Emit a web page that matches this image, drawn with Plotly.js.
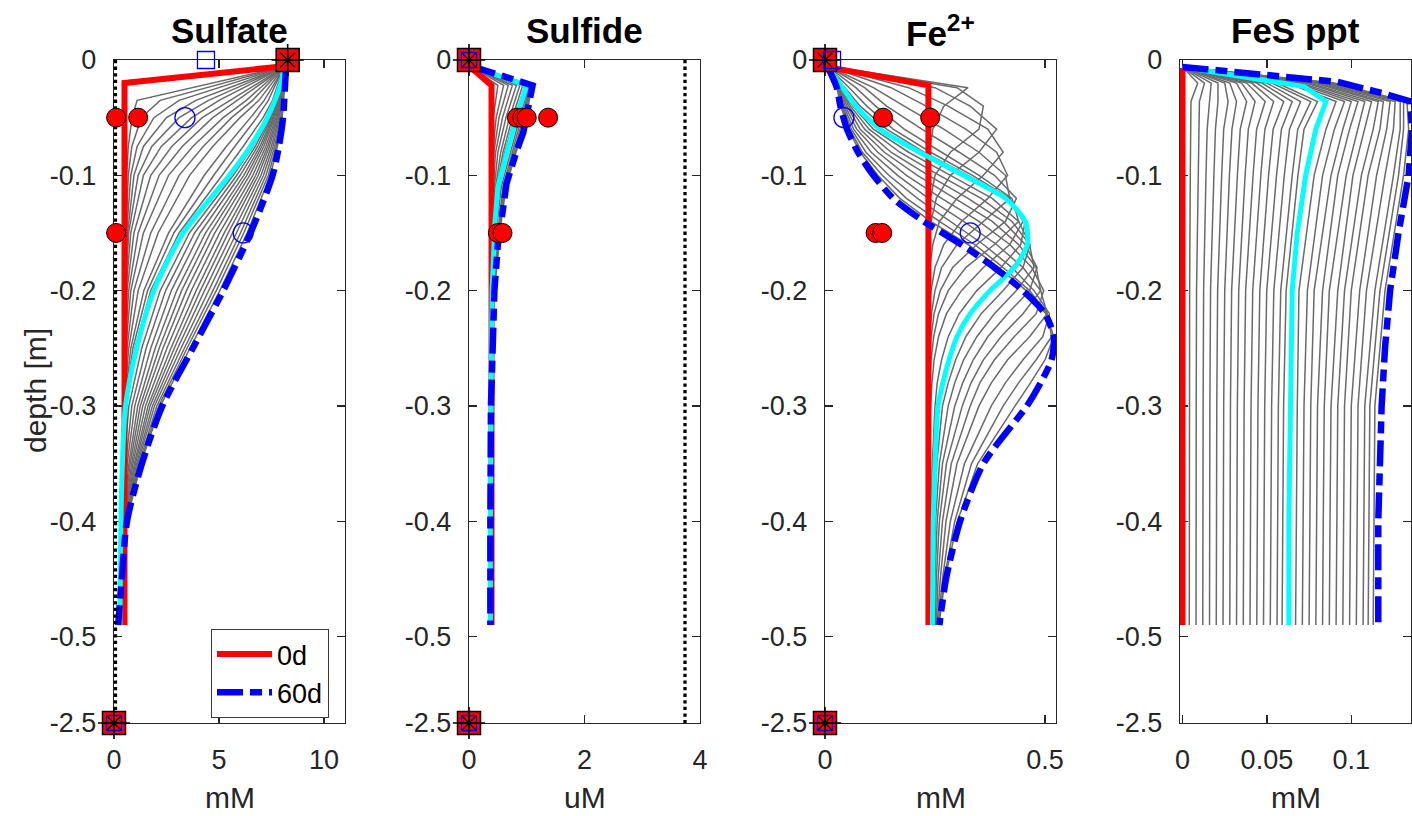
<!DOCTYPE html>
<html><head><meta charset="utf-8">
<script src="https://cdn.plot.ly/plotly-3.0.1.min.js"></script>
<style>html,body{margin:0;padding:0;background:#fff}#chart{width:1412px;height:816px}</style>
</head><body><div id="chart"></div>
<script>
// ---------------- DATA ----------------
const depthTicks = [0, -0.1, -0.2, -0.3, -0.4, -0.5, -2.5];
const depthTickText = ['0', '-0.1', '-0.2', '-0.3', '-0.4', '-0.5', '-2.5'];

// Panel 1: Sulfate (mM)
const sulfTickVals = [0, 5, 10];
const sulfRedDepth = [-0.005, -0.02, -0.49];
const sulfRedVal = [8.3, 0.5, 0.5];
const sulfLineDepth = [-0.005, -0.02, -0.05, -0.075, -0.1, -0.15, -0.2, -0.25, -0.3, -0.35, -0.4, -0.45, -0.49];
const sulfCyanVal = [8.1, 7.95, 7.3, 6.5, 5.5, 3.3, 1.9, 1.08, 0.55, 0.4, 0.33, 0.3, 0.28];
const sulfBlueVal = [8.2, 8.15, 8.05, 7.85, 7.55, 6.5, 5.2, 3.75, 2.3, 1.33, 0.62, 0.37, 0.2];
const sulfGrayDepth = [-0.005, -0.035, -0.05, -0.075, -0.1, -0.15, -0.2, -0.25, -0.3, -0.35, -0.4, -0.45, -0.49];
const sulfGray = [
  [8.25, 1.1, 0.86, 0.68, 0.6, 0.55, 0.52, 0.5, 0.5, 0.5, 0.49, 0.48, 0.47],
  [8.25, 2.2, 1.3, 0.85, 0.68, 0.57, 0.52, 0.5, 0.5, 0.49, 0.48, 0.47, 0.46],
  [8.25, 3.1, 1.9, 1.1, 0.8, 0.6, 0.53, 0.5, 0.49, 0.48, 0.47, 0.46, 0.45],
  [8.25, 3.9, 2.5, 1.4, 0.95, 0.65, 0.54, 0.5, 0.48, 0.47, 0.46, 0.45, 0.44],
  [8.2, 4.5, 3.1, 1.8, 1.15, 0.7, 0.55, 0.5, 0.47, 0.46, 0.45, 0.44, 0.43],
  [8.2, 5.0, 3.7, 2.25, 1.4, 0.8, 0.57, 0.5, 0.46, 0.45, 0.44, 0.43, 0.42],
  [8.2, 5.5, 4.2, 2.75, 1.75, 0.95, 0.62, 0.5, 0.46, 0.44, 0.43, 0.42, 0.4],
  [8.2, 5.9, 4.7, 3.25, 2.15, 1.15, 0.7, 0.52, 0.45, 0.43, 0.42, 0.4, 0.38],
  [8.15, 6.3, 5.2, 3.75, 2.6, 1.4, 0.8, 0.56, 0.45, 0.42, 0.4, 0.38, 0.36],
  [8.15, 6.6, 5.6, 4.25, 3.1, 1.75, 0.95, 0.62, 0.46, 0.42, 0.39, 0.36, 0.34],
  [8.15, 6.9, 6.0, 4.7, 3.6, 2.1, 1.15, 0.7, 0.48, 0.41, 0.37, 0.34, 0.32],
  [8.15, 7.15, 6.5, 5.35, 4.3, 2.6, 1.42, 0.8, 0.5, 0.41, 0.35, 0.32, 0.3],
  [8.1, 7.35, 6.8, 5.75, 4.75, 2.85, 1.6, 0.9, 0.52, 0.4, 0.34, 0.31, 0.29],
  [8.1, 7.55, 7.1, 6.15, 5.15, 3.1, 1.75, 1.0, 0.54, 0.4, 0.33, 0.3, 0.28],
  [8.11, 7.69, 7.37, 6.62, 5.68, 3.59, 2.2, 1.32, 0.71, 0.48, 0.36, 0.31, 0.27],
  [8.12, 7.73, 7.43, 6.73, 5.85, 3.84, 2.46, 1.53, 0.85, 0.56, 0.38, 0.31, 0.27],
  [8.13, 7.76, 7.49, 6.84, 6.01, 4.1, 2.73, 1.75, 0.99, 0.63, 0.4, 0.32, 0.26],
  [8.13, 7.8, 7.55, 6.95, 6.18, 4.36, 2.99, 1.96, 1.13, 0.71, 0.43, 0.32, 0.25],
  [8.14, 7.83, 7.6, 7.04, 6.32, 4.58, 3.22, 2.15, 1.25, 0.77, 0.45, 0.33, 0.25],
  [8.15, 7.86, 7.65, 7.13, 6.46, 4.8, 3.45, 2.33, 1.37, 0.84, 0.47, 0.33, 0.24],
  [8.15, 7.89, 7.71, 7.23, 6.61, 5.03, 3.68, 2.52, 1.5, 0.9, 0.49, 0.34, 0.24],
  [8.16, 7.92, 7.76, 7.32, 6.75, 5.25, 3.91, 2.71, 1.62, 0.97, 0.51, 0.34, 0.23],
  [8.17, 7.95, 7.8, 7.4, 6.87, 5.44, 4.11, 2.87, 1.72, 1.02, 0.52, 0.35, 0.23],
  [8.17, 7.98, 7.85, 7.49, 7.0, 5.64, 4.31, 3.03, 1.83, 1.08, 0.54, 0.35, 0.22],
  [8.18, 8.01, 7.89, 7.57, 7.12, 5.83, 4.51, 3.19, 1.93, 1.13, 0.56, 0.36, 0.22],
  [8.19, 8.03, 7.94, 7.65, 7.24, 6.02, 4.71, 3.35, 2.04, 1.19, 0.58, 0.36, 0.21],
  [8.19, 8.06, 7.98, 7.72, 7.35, 6.18, 4.87, 3.48, 2.13, 1.24, 0.59, 0.36, 0.21],
  [8.2, 8.08, 8.01, 7.78, 7.45, 6.34, 5.04, 3.62, 2.21, 1.28, 0.61, 0.37, 0.2]
];
const sulfDottedX = 0.07;
const sulfObsRedX = [0.1, 1.15, 0.1];
const sulfObsRedDepth = [-0.05, -0.05, -0.15];
const sulfObsBlueX = [3.38, 6.15];
const sulfObsBlueDepth = [-0.05, -0.15];
const sulfObsBlueSqX = [4.38];
const sulfObsBlueSqDepth = [0];
const sulfBoundX = [8.27, 0];
const sulfBoundDepth = [0, -2.5];
const sulfBoundBlueX = [0];
const sulfBoundBlueDepth = [-2.5];

// Panel 2: Sulfide (uM)
const sulfideTickVals = [0, 2, 4];
const sulfideRedDepth = [-0.005, -0.022, -0.49];
const sulfideRedVal = [0, 0.39, 0.39];
const sulfideGrayDepth = [-0.005, -0.022, -0.05, -0.08, -0.11, -0.14, -0.17, -0.2, -0.25, -0.3, -0.4, -0.49];
const sulfideCyanVal = [0.02, 1.0, 0.82, 0.65, 0.5, 0.45, 0.42, 0.4, 0.39, 0.38, 0.37, 0.37];
const sulfideBlueDepth = [-0.005, -0.022, -0.05, -0.063, -0.078, -0.107, -0.136, -0.16, -0.2, -0.25, -0.3, -0.4, -0.49];
const sulfideBlueVal = [0.02, 1.1, 0.99, 0.94, 0.83, 0.65, 0.57, 0.5, 0.44, 0.4, 0.38, 0.37, 0.37];
const sulfideGray = [
  [0.01, 0.5, 0.42, 0.4, 0.4, 0.4, 0.4, 0.4, 0.4, 0.4, 0.39, 0.39],
  [0.01, 0.6, 0.47, 0.41, 0.4, 0.4, 0.4, 0.4, 0.4, 0.39, 0.39, 0.38],
  [0.01, 0.68, 0.52, 0.43, 0.41, 0.4, 0.4, 0.4, 0.39, 0.39, 0.38, 0.38],
  [0.01, 0.75, 0.58, 0.46, 0.42, 0.41, 0.4, 0.4, 0.39, 0.39, 0.38, 0.38],
  [0.02, 0.82, 0.64, 0.5, 0.44, 0.42, 0.41, 0.4, 0.39, 0.38, 0.38, 0.37],
  [0.02, 0.88, 0.7, 0.55, 0.46, 0.43, 0.41, 0.4, 0.39, 0.38, 0.37, 0.37],
  [0.02, 0.93, 0.75, 0.59, 0.48, 0.44, 0.42, 0.4, 0.39, 0.38, 0.37, 0.37],
  [0.02, 0.97, 0.79, 0.62, 0.49, 0.45, 0.42, 0.4, 0.39, 0.38, 0.37, 0.37],
  [0.02, 1.02, 0.85, 0.68, 0.53, 0.47, 0.44, 0.41, 0.39, 0.38, 0.37, 0.37],
  [0.02, 1.04, 0.88, 0.72, 0.56, 0.49, 0.45, 0.42, 0.4, 0.38, 0.37, 0.37],
  [0.02, 1.06, 0.91, 0.75, 0.59, 0.52, 0.46, 0.42, 0.4, 0.38, 0.37, 0.37],
  [0.02, 1.07, 0.94, 0.78, 0.61, 0.54, 0.47, 0.43, 0.4, 0.38, 0.37, 0.37],
  [0.02, 1.08, 0.97, 0.8, 0.63, 0.55, 0.49, 0.43, 0.4, 0.38, 0.37, 0.37],
  [0.02, 1.09, 0.99, 0.82, 0.64, 0.56, 0.5, 0.44, 0.4, 0.38, 0.37, 0.37]
];
const sulfideDottedX = 3.74;
const sulfideObsRedX = [0.83, 0.92, 1.0, 1.37, 0.5, 0.58];
const sulfideObsRedDepth = [-0.05, -0.05, -0.05, -0.05, -0.15, -0.15];
const sulfideBoundX = [0, 0];
const sulfideBoundDepth = [0, -2.5];
const sulfideBoundBlueX = [0, 0];
const sulfideBoundBlueDepth = [0, -2.5];

// Panel 3: Fe2+ (mM)
const feTickVals = [0, 0.5];
const feRedDepth = [-0.006, -0.022, -0.49];
const feRedVal = [0.003, 0.235, 0.235];
const feDepth = [-0.005, -0.024, -0.04, -0.06, -0.08, -0.1, -0.12, -0.14, -0.16, -0.18, -0.2, -0.22, -0.24, -0.26, -0.28, -0.3, -0.35, -0.4, -0.45, -0.49];
const feCyanVal = [0.005, 0.04, 0.07, 0.125, 0.215, 0.315, 0.41, 0.455, 0.46, 0.43, 0.375, 0.33, 0.3, 0.282, 0.268, 0.257, 0.25, 0.246, 0.245, 0.244];
const feBlueVal = [0.005, 0.027, 0.035, 0.05, 0.075, 0.11, 0.155, 0.225, 0.31, 0.385, 0.45, 0.5, 0.52, 0.515, 0.49, 0.459, 0.36, 0.307, 0.275, 0.26];
const feGray = [
  [0.004, 0.325, 0.27, 0.245, 0.237, 0.235, 0.235, 0.235, 0.235, 0.235, 0.235, 0.235, 0.235, 0.235, 0.235, 0.235, 0.235, 0.235, 0.235, 0.235],
  [0.004, 0.3, 0.36, 0.35, 0.285, 0.25, 0.24, 0.236, 0.235, 0.235, 0.235, 0.235, 0.235, 0.235, 0.235, 0.235, 0.235, 0.235, 0.235, 0.235],
  [0.004, 0.25, 0.33, 0.39, 0.35, 0.285, 0.253, 0.241, 0.237, 0.235, 0.235, 0.235, 0.235, 0.235, 0.235, 0.235, 0.235, 0.235, 0.235, 0.235],
  [0.004, 0.19, 0.28, 0.37, 0.405, 0.36, 0.3, 0.26, 0.245, 0.238, 0.236, 0.235, 0.235, 0.235, 0.235, 0.235, 0.235, 0.235, 0.235, 0.235],
  [0.004, 0.15, 0.23, 0.32, 0.39, 0.415, 0.37, 0.31, 0.27, 0.25, 0.241, 0.237, 0.236, 0.235, 0.235, 0.235, 0.235, 0.235, 0.235, 0.235],
  [0.004, 0.11, 0.18, 0.27, 0.35, 0.41, 0.42, 0.36, 0.3, 0.265, 0.25, 0.242, 0.238, 0.236, 0.235, 0.235, 0.235, 0.235, 0.235, 0.235],
  [0.004, 0.09, 0.14, 0.22, 0.305, 0.385, 0.435, 0.41, 0.345, 0.29, 0.262, 0.248, 0.241, 0.238, 0.236, 0.236, 0.235, 0.235, 0.235, 0.235],
  [0.004, 0.07, 0.115, 0.18, 0.265, 0.35, 0.425, 0.44, 0.385, 0.32, 0.28, 0.258, 0.247, 0.241, 0.238, 0.237, 0.236, 0.236, 0.235, 0.235],
  [0.004, 0.055, 0.095, 0.155, 0.24, 0.335, 0.42, 0.45, 0.42, 0.36, 0.31, 0.276, 0.258, 0.248, 0.243, 0.24, 0.238, 0.237, 0.237, 0.237],
  [0.004, 0.045, 0.08, 0.14, 0.225, 0.325, 0.415, 0.455, 0.445, 0.4, 0.345, 0.305, 0.28, 0.265, 0.255, 0.25, 0.244, 0.241, 0.24, 0.24],
  [0.005, 0.037, 0.063, 0.11, 0.19, 0.285, 0.38, 0.44, 0.466, 0.45, 0.405, 0.355, 0.32, 0.297, 0.28, 0.267, 0.254, 0.248, 0.246, 0.245],
  [0.005, 0.035, 0.058, 0.1, 0.17, 0.26, 0.355, 0.425, 0.465, 0.475, 0.435, 0.385, 0.345, 0.315, 0.295, 0.28, 0.26, 0.251, 0.248, 0.247],
  [0.005, 0.033, 0.054, 0.09, 0.15, 0.235, 0.325, 0.405, 0.455, 0.482, 0.465, 0.415, 0.37, 0.337, 0.313, 0.295, 0.267, 0.255, 0.25, 0.249],
  [0.005, 0.031, 0.05, 0.08, 0.135, 0.21, 0.295, 0.38, 0.44, 0.48, 0.49, 0.45, 0.4, 0.36, 0.332, 0.312, 0.276, 0.26, 0.253, 0.251],
  [0.005, 0.03, 0.046, 0.072, 0.12, 0.185, 0.265, 0.35, 0.42, 0.47, 0.497, 0.48, 0.43, 0.385, 0.352, 0.33, 0.287, 0.267, 0.257, 0.253],
  [0.005, 0.029, 0.043, 0.065, 0.105, 0.165, 0.235, 0.315, 0.39, 0.45, 0.49, 0.505, 0.465, 0.415, 0.378, 0.35, 0.3, 0.275, 0.262, 0.255],
  [0.005, 0.028, 0.04, 0.06, 0.093, 0.145, 0.21, 0.285, 0.36, 0.425, 0.475, 0.51, 0.495, 0.45, 0.41, 0.378, 0.317, 0.285, 0.267, 0.257],
  [0.005, 0.028, 0.038, 0.056, 0.085, 0.13, 0.185, 0.26, 0.34, 0.405, 0.465, 0.505, 0.515, 0.48, 0.44, 0.405, 0.333, 0.295, 0.271, 0.258],
  [0.005, 0.027, 0.036, 0.053, 0.08, 0.12, 0.17, 0.24, 0.325, 0.395, 0.457, 0.502, 0.52, 0.5, 0.467, 0.432, 0.347, 0.301, 0.273, 0.259]
];
const feObsRedX = [0.132, 0.239, 0.115, 0.13];
const feObsRedDepth = [-0.05, -0.05, -0.15, -0.15];
const feObsBlueX = [0.043, 0.33];
const feObsBlueDepth = [-0.05, -0.15];
const feObsBlueSqX = [0.016];
const feObsBlueSqDepth = [0];
const feBoundX = [0, 0];
const feBoundDepth = [0, -2.5];
const feBoundBlueX = [0];
const feBoundBlueDepth = [-2.5];

// Panel 4: FeS ppt (mM)
const fesTickVals = [0, 0.05, 0.1];
const fesTickText = ['0', '0.05', '0.1'];
const fesRedDepth = [-0.007, -0.49];
const fesRedVal = [0, 0];
const fesCyanDepth = [-0.006, -0.023, -0.036, -0.06, -0.1, -0.15, -0.2, -0.3, -0.4, -0.49];
const fesCyanVal = [0, 0.072, 0.085, 0.079, 0.073, 0.068, 0.065, 0.064, 0.063, 0.063];
const fesBlueDepth = [-0.006, -0.013, -0.019, -0.029, -0.036, -0.06, -0.1, -0.15, -0.2, -0.25, -0.3, -0.35, -0.4, -0.49];
const fesBlueVal = [0, 0.048, 0.092, 0.119, 0.135, 0.136, 0.134, 0.128, 0.123, 0.12, 0.118, 0.117, 0.116, 0.116];
const fesGrayDepth = [-0.006, -0.02, -0.036, -0.06, -0.1, -0.2, -0.3, -0.4, -0.49];
const fesGray = [
  [0, 0.009, 0.005, 0.0048, 0.0046, 0.0042, 0.0041, 0.004, 0.004],
  [0, 0.013, 0.010, 0.0097, 0.0093, 0.0083, 0.0081, 0.008, 0.008],
  [0, 0.017, 0.016, 0.0146, 0.0139, 0.0125, 0.0122, 0.0121, 0.012],
  [0, 0.021, 0.021, 0.0195, 0.0186, 0.0166, 0.0162, 0.0161, 0.016],
  [0, 0.025, 0.027, 0.0244, 0.0232, 0.0208, 0.0203, 0.0201, 0.020],
  [0, 0.028, 0.032, 0.0293, 0.0278, 0.025, 0.0244, 0.0241, 0.024],
  [0, 0.032, 0.038, 0.0342, 0.0325, 0.0291, 0.0284, 0.0281, 0.028],
  [0, 0.035, 0.043, 0.039, 0.0371, 0.0333, 0.0325, 0.0322, 0.032],
  [0, 0.038, 0.049, 0.0439, 0.0418, 0.0374, 0.0365, 0.0362, 0.036],
  [0, 0.041, 0.054, 0.0488, 0.0464, 0.0416, 0.0406, 0.0402, 0.040],
  [0, 0.044, 0.060, 0.0537, 0.051, 0.0458, 0.0447, 0.0442, 0.044],
  [0, 0.047, 0.065, 0.0586, 0.0557, 0.0499, 0.0487, 0.0482, 0.048],
  [0, 0.050, 0.070, 0.0634, 0.0603, 0.0541, 0.0528, 0.0523, 0.052],
  [0, 0.053, 0.076, 0.0683, 0.065, 0.0582, 0.0568, 0.0563, 0.056],
  [0, 0.056, 0.080, 0.072, 0.0684, 0.0614, 0.0599, 0.0593, 0.059],
  [0, 0.062, 0.091, 0.085, 0.078, 0.069, 0.068, 0.0673, 0.067],
  [0, 0.065, 0.096, 0.09, 0.083, 0.074, 0.072, 0.0713, 0.071],
  [0, 0.068, 0.100, 0.095, 0.088, 0.078, 0.076, 0.0754, 0.075],
  [0, 0.070, 0.104, 0.099, 0.092, 0.083, 0.080, 0.0794, 0.079],
  [0, 0.073, 0.108, 0.104, 0.097, 0.087, 0.084, 0.0834, 0.083],
  [0, 0.075, 0.112, 0.108, 0.101, 0.092, 0.088, 0.0874, 0.087],
  [0, 0.078, 0.116, 0.113, 0.106, 0.096, 0.092, 0.0914, 0.091],
  [0, 0.080, 0.119, 0.117, 0.110, 0.100, 0.096, 0.0954, 0.095],
  [0, 0.082, 0.123, 0.121, 0.115, 0.105, 0.100, 0.0995, 0.099],
  [0, 0.084, 0.126, 0.125, 0.120, 0.109, 0.104, 0.1035, 0.103],
  [0, 0.086, 0.129, 0.129, 0.125, 0.114, 0.108, 0.1075, 0.107],
  [0, 0.088, 0.131, 0.131, 0.128, 0.117, 0.111, 0.1105, 0.110],
  [0, 0.090, 0.133, 0.134, 0.131, 0.120, 0.114, 0.1135, 0.113]
];

const legendNames = ['0d', '60d'];
const titles = ['<b>Sulfate</b>', '<b>Sulfide</b>', '<b>Fe<sup>2+</sup></b>', '<b>FeS ppt</b>'];
const units = ['mM', 'uM', 'mM', 'mM'];

// ---------------- DRAWING ----------------
// axis break: depths below -0.5 m are drawn at the break position
const Y = d => (d < -0.51 ? -0.575 : d);
const W = 1412, H = 816;
const FONT = 'Liberation Sans, Arial, Helvetica, sans-serif';
const AX = '#262626';
const GRAY = '#6a6a6a', RED = '#ff0000', BLUE = '#0000ff', CYAN = '#00ffff';
const DASHDOT = '26px,7px,12px,7px';

const traces = [];
function ln(k, xs, ds, color, width, dash, name, smooth) {
  const t = {x: xs, y: ds.map(Y), mode: 'lines', xaxis: 'x' + (k === 1 ? '' : k), yaxis: 'y' + (k === 1 ? '' : k),
    line: {color: color, width: width, dash: dash || 'solid'}, hoverinfo: 'skip', showlegend: false};
  if (smooth) { t.line.shape = 'spline'; t.line.smoothing = smooth; }
  if (name) { t.name = name; t.showlegend = true; }
  traces.push(t);
}
function mk(k, xs, ds, marker) {
  traces.push({x: xs, y: ds.map(Y), mode: 'markers', xaxis: 'x' + (k === 1 ? '' : k), yaxis: 'y' + (k === 1 ? '' : k),
    marker: marker, cliponaxis: false, hoverinfo: 'skip', showlegend: false});
}
const redDot = {symbol: 'circle', size: 19, color: RED, line: {color: '#000', width: 1}};
const blueCirc = {symbol: 'circle-open', size: 20, color: BLUE, line: {width: 1.3}};
const blueSq = {symbol: 'square-open', size: 17, color: BLUE, line: {width: 1.3}};
const innerSq = {symbol: 'square-open', size: 15, color: BLUE, line: {width: 1.3}};
const redSq = {symbol: 'square', size: 23, color: RED, line: {color: '#000', width: 1.5}};
const aster = {symbol: 'asterisk-open', size: 17, color: '#000', line: {width: 1.3}};
const crossM = {symbol: 'cross-thin-open', size: 23, color: '#000', line: {width: 1.6}};
function boundary(k, bx, bd, bbx, bbd) {
  mk(k, bx, bd, redSq);
  mk(k, bbx, bbd, innerSq);
  mk(k, bx, bd, aster);
  mk(k, bx, bd, crossM);
}
const GW = 1.5;

// Panel 1
sulfGray.forEach(r => ln(1, r, sulfGrayDepth, GRAY, GW));
ln(1, sulfRedVal, sulfRedDepth, RED, 6, null, legendNames[0]);
ln(1, sulfCyanVal, sulfLineDepth, CYAN, 5, null, null, 0.8);
ln(1, sulfBlueVal, sulfLineDepth, BLUE, 6.5, DASHDOT, legendNames[1], 0.8);
ln(1, [sulfDottedX, sulfDottedX], [0, -2.5], '#000', 3.3, 'dot');
mk(1, sulfObsRedX, sulfObsRedDepth, redDot);
mk(1, sulfObsBlueX, sulfObsBlueDepth, blueCirc);
mk(1, sulfObsBlueSqX, sulfObsBlueSqDepth, blueSq);
boundary(1, sulfBoundX, sulfBoundDepth, sulfBoundBlueX, sulfBoundBlueDepth);

// Panel 2
sulfideGray.forEach(r => ln(2, r, sulfideGrayDepth, GRAY, GW));
ln(2, sulfideRedVal, sulfideRedDepth, RED, 6);
ln(2, sulfideCyanVal, sulfideGrayDepth, CYAN, 5);
ln(2, sulfideBlueVal, sulfideBlueDepth, BLUE, 6.5, DASHDOT);
ln(2, [sulfideDottedX, sulfideDottedX], [0, -2.5], '#000', 3.3, 'dot');
mk(2, sulfideObsRedX, sulfideObsRedDepth, redDot);
boundary(2, sulfideBoundX, sulfideBoundDepth, sulfideBoundBlueX, sulfideBoundBlueDepth);

// Panel 3
feGray.forEach(r => ln(3, r, feDepth, GRAY, GW));
ln(3, feRedVal, feRedDepth, RED, 6);
ln(3, feCyanVal, feDepth, CYAN, 5, null, null, 0.7);
ln(3, feBlueVal, feDepth, BLUE, 6.5, DASHDOT, null, 0.7);
mk(3, feObsRedX, feObsRedDepth, redDot);
mk(3, feObsBlueX, feObsBlueDepth, blueCirc);
boundary(3, feBoundX, feBoundDepth, feBoundBlueX, feBoundBlueDepth);
mk(3, feObsBlueSqX, feObsBlueSqDepth, blueSq);

// Panel 4
fesGray.forEach(r => ln(4, r, fesGrayDepth, GRAY, GW));
ln(4, fesRedVal, fesRedDepth, RED, 6);
ln(4, fesCyanVal, fesCyanDepth, CYAN, 5);
ln(4, fesBlueVal, fesBlueDepth, BLUE, 6.5, DASHDOT);

// ---------------- LAYOUT ----------------
const plotLeftPx = [114, 469, 825, 1180];
const plotW = 231, topPx = 60, botPx = 723;
const xRanges = [[0, 11], [0, 4], [0, 0.525], [-0.0015, 0.1354]];
const xTicks = [
  [sulfTickVals, sulfTickVals.map(String)],
  [sulfideTickVals, sulfideTickVals.map(String)],
  [feTickVals, feTickVals.map(String)],
  [fesTickVals, fesTickText]
];
const layout = {
  width: W, height: H, margin: {l: 0, r: 0, t: 0, b: 0},
  paper_bgcolor: '#fff', plot_bgcolor: '#fff', hovermode: false,
  font: {family: FONT, color: AX},
  showlegend: true,
  legend: {x: 211 / W, y: 1 - 629 / H, xanchor: 'left', yanchor: 'top', bgcolor: '#fff',
    bordercolor: '#3a3a3a', borderwidth: 1, font: {family: FONT, size: 27, color: '#000'},
    itemwidth: 55, tracegroupgap: 0},
  annotations: []
};
const common = {showline: true, linecolor: AX, linewidth: 1.2, mirror: 'ticks', ticks: 'inside',
  ticklen: 8, tickwidth: 1.2, tickcolor: AX, showgrid: false, zeroline: false, layer: 'below traces',
  tickfont: {family: FONT, size: 27, color: AX}, fixedrange: true};
for (let i = 0; i < 4; i++) {
  const s = i === 0 ? '' : String(i + 1);
  const d0 = plotLeftPx[i] / W, d1 = (plotLeftPx[i] + plotW) / W;
  layout['xaxis' + s] = Object.assign({}, common, {domain: [d0, d1], range: xRanges[i], anchor: 'y' + s,
    tickmode: 'array', tickvals: xTicks[i][0], ticktext: xTicks[i][1], ticklabelstandoff: 12});
  layout['yaxis' + s] = Object.assign({}, common, {domain: [1 - botPx / H, 1 - topPx / H], range: [-0.575, 0],
    anchor: 'x' + s, tickmode: 'array', tickvals: depthTicks.map(Y), ticktext: depthTickText, ticklabelstandoff: 11});
  layout.annotations.push({text: titles[i], xref: 'paper', yref: 'paper', x: (d0 + d1) / 2, y: 1 - 31 / H,
    xanchor: 'center', yanchor: 'middle', showarrow: false, font: {family: FONT, size: 35, color: '#000'}});
  layout.annotations.push({text: units[i], xref: 'paper', yref: 'paper', x: (d0 + d1) / 2, y: 1 - 797 / H,
    xanchor: 'center', yanchor: 'middle', showarrow: false, font: {family: FONT, size: 30, color: AX}});
}
layout.annotations.push({text: 'depth [m]', xref: 'paper', yref: 'paper', x: 35 / W, y: 1 - 391 / H,
  xanchor: 'center', yanchor: 'middle', textangle: -90, showarrow: false, font: {family: FONT, size: 30, color: AX}});

Plotly.newPlot('chart', traces, layout, {displayModeBar: false, staticPlot: true});
</script></body></html>
